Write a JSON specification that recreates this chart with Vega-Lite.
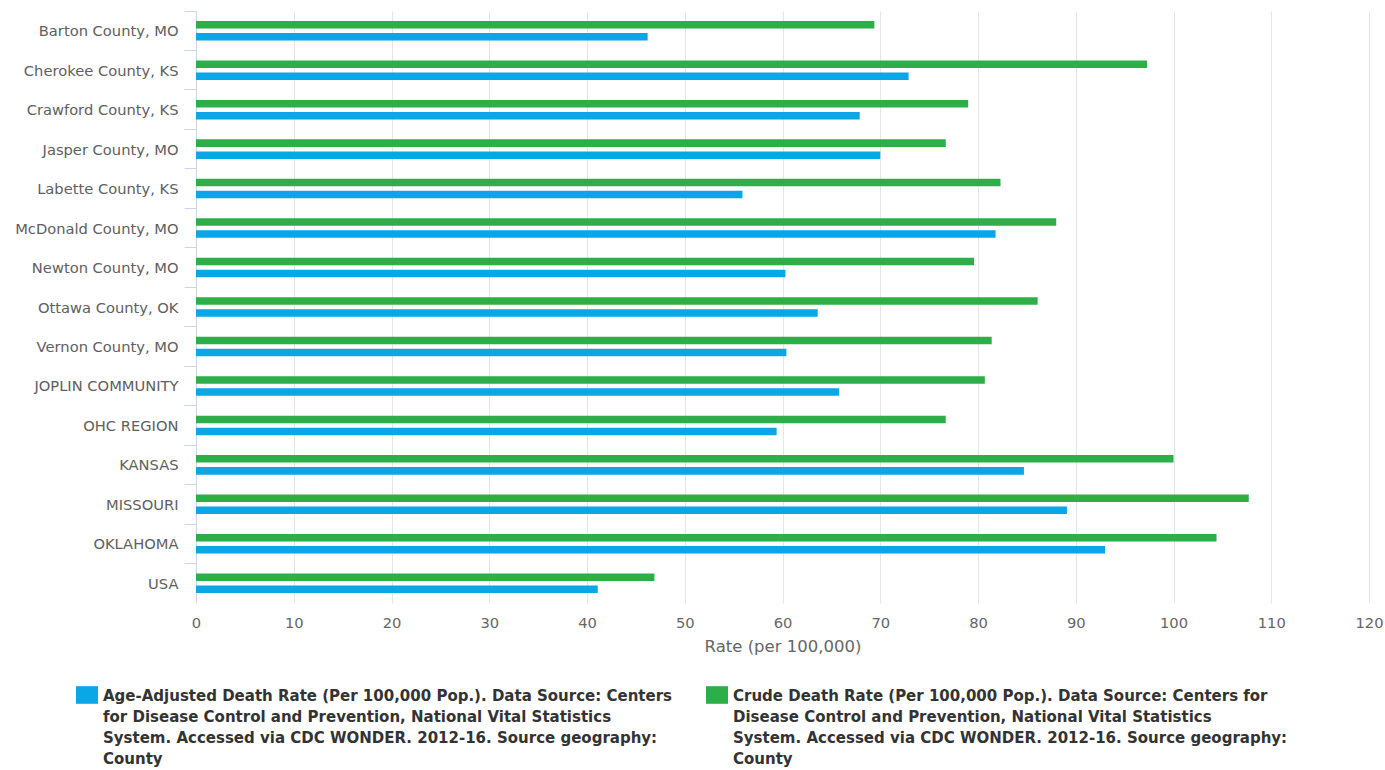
{
  "$schema": "https://vega.github.io/schema/vega-lite/v6.json",
  "autosize": "none",
  "width": 1173,
  "height": 592,
  "padding": {"left": 196, "top": 11, "right": 16, "bottom": 167},
  "background": "white",
  "config": {"view": {"stroke": null}},
  "data": {
    "values": [
      {"area": "Barton County, MO", "measure": "Crude", "rate": 69.4},
      {"area": "Barton County, MO", "measure": "Age-Adjusted", "rate": 46.2},
      {"area": "Cherokee County, KS", "measure": "Crude", "rate": 97.3},
      {"area": "Cherokee County, KS", "measure": "Age-Adjusted", "rate": 72.9},
      {"area": "Crawford County, KS", "measure": "Crude", "rate": 79.0},
      {"area": "Crawford County, KS", "measure": "Age-Adjusted", "rate": 67.9},
      {"area": "Jasper County, MO", "measure": "Crude", "rate": 76.7},
      {"area": "Jasper County, MO", "measure": "Age-Adjusted", "rate": 70.0},
      {"area": "Labette County, KS", "measure": "Crude", "rate": 82.3},
      {"area": "Labette County, KS", "measure": "Age-Adjusted", "rate": 55.9},
      {"area": "McDonald County, MO", "measure": "Crude", "rate": 88.0},
      {"area": "McDonald County, MO", "measure": "Age-Adjusted", "rate": 81.8},
      {"area": "Newton County, MO", "measure": "Crude", "rate": 79.6},
      {"area": "Newton County, MO", "measure": "Age-Adjusted", "rate": 60.3},
      {"area": "Ottawa County, OK", "measure": "Crude", "rate": 86.1},
      {"area": "Ottawa County, OK", "measure": "Age-Adjusted", "rate": 63.6},
      {"area": "Vernon County, MO", "measure": "Crude", "rate": 81.4},
      {"area": "Vernon County, MO", "measure": "Age-Adjusted", "rate": 60.4},
      {"area": "JOPLIN COMMUNITY", "measure": "Crude", "rate": 80.7},
      {"area": "JOPLIN COMMUNITY", "measure": "Age-Adjusted", "rate": 65.8},
      {"area": "OHC REGION", "measure": "Crude", "rate": 76.7},
      {"area": "OHC REGION", "measure": "Age-Adjusted", "rate": 59.4},
      {"area": "KANSAS", "measure": "Crude", "rate": 100.0},
      {"area": "KANSAS", "measure": "Age-Adjusted", "rate": 84.7},
      {"area": "MISSOURI", "measure": "Crude", "rate": 107.7},
      {"area": "MISSOURI", "measure": "Age-Adjusted", "rate": 89.1},
      {"area": "OKLAHOMA", "measure": "Crude", "rate": 104.4},
      {"area": "OKLAHOMA", "measure": "Age-Adjusted", "rate": 93.0},
      {"area": "USA", "measure": "Crude", "rate": 46.9},
      {"area": "USA", "measure": "Age-Adjusted", "rate": 41.1}
    ]
  },
  "mark": {"type": "bar", "cornerRadius": 0},
  "encoding": {
    "y": {
      "field": "area",
      "type": "nominal",
      "sort": null,
      "scale": {"paddingInner": 0, "paddingOuter": 0},
      "axis": {
        "title": null,
        "bandPosition": 0,
        "domainColor": "#ccd6eb",
        "tickColor": "#ccd6eb",
        "tickSize": 12,
        "labelPadding": 6,
        "labelOffset": 1.5,
        "labelFont": "DejaVu Sans",
        "labelFontSize": 14.7,
        "labelColor": "#606060",
        "grid": false
      }
    },
    "yOffset": {
      "field": "measure",
      "type": "nominal",
      "sort": ["Crude", "Age-Adjusted"],
      "scale": {"paddingInner": 0.375, "paddingOuter": 0.83}
    },
    "x": {
      "field": "rate",
      "type": "quantitative",
      "scale": {"domain": [0, 120], "nice": false},
      "axis": {
        "title": "Rate (per 100,000)",
        "values": [0, 10, 20, 30, 40, 50, 60, 70, 80, 90, 100, 110, 120],
        "grid": true,
        "gridColor": "#e6e6e6",
        "domain": false,
        "ticks": false,
        "labelFlush": false,
        "labelPadding": 12,
        "labelFont": "DejaVu Sans",
        "labelFontSize": 14.7,
        "labelColor": "#666666",
        "titleFont": "DejaVu Sans",
        "titleFontSize": 16.5,
        "titleFontWeight": "normal",
        "titleColor": "#666666",
        "titlePadding": 9
      }
    },
    "color": {
      "field": "measure",
      "type": "nominal",
      "scale": {"domain": ["Age-Adjusted", "Crude"], "range": ["#0aa6e6", "#2eae48"]},
      "legend": {
        "title": null,
        "orient": "none",
        "legendX": -120,
        "legendY": 673,
        "direction": "horizontal",
        "columns": 2,
        "columnPadding": 34,
        "symbolType": "M-1,-0.8H1V0.8H-1Z",
        "symbolSize": 484,
        "symbolStrokeWidth": 0,
        "labelFont": "DejaVu Sans",
        "labelFontSize": 15,
        "labelFontWeight": "bold",
        "labelColor": "#333333",
        "labelLimit": 1000,
        "labelOffset": 5,
        "labelBaseline": "top",
        "labelExpr": "datum.label == 'Age-Adjusted' ? ['Age-Adjusted Death Rate (Per 100,000 Pop.). Data Source: Centers', 'for Disease Control and Prevention, National Vital Statistics', 'System. Accessed via CDC WONDER. 2012-16. Source geography:', 'County'] : ['Crude Death Rate (Per 100,000 Pop.). Data Source: Centers for', 'Disease Control and Prevention, National Vital Statistics', 'System. Accessed via CDC WONDER. 2012-16. Source geography:', 'County']",
        "encode": {
          "labels": {"update": {"lineHeight": {"value": 21}, "dy": {"value": -6}}}
        }
      }
    }
  }
}
